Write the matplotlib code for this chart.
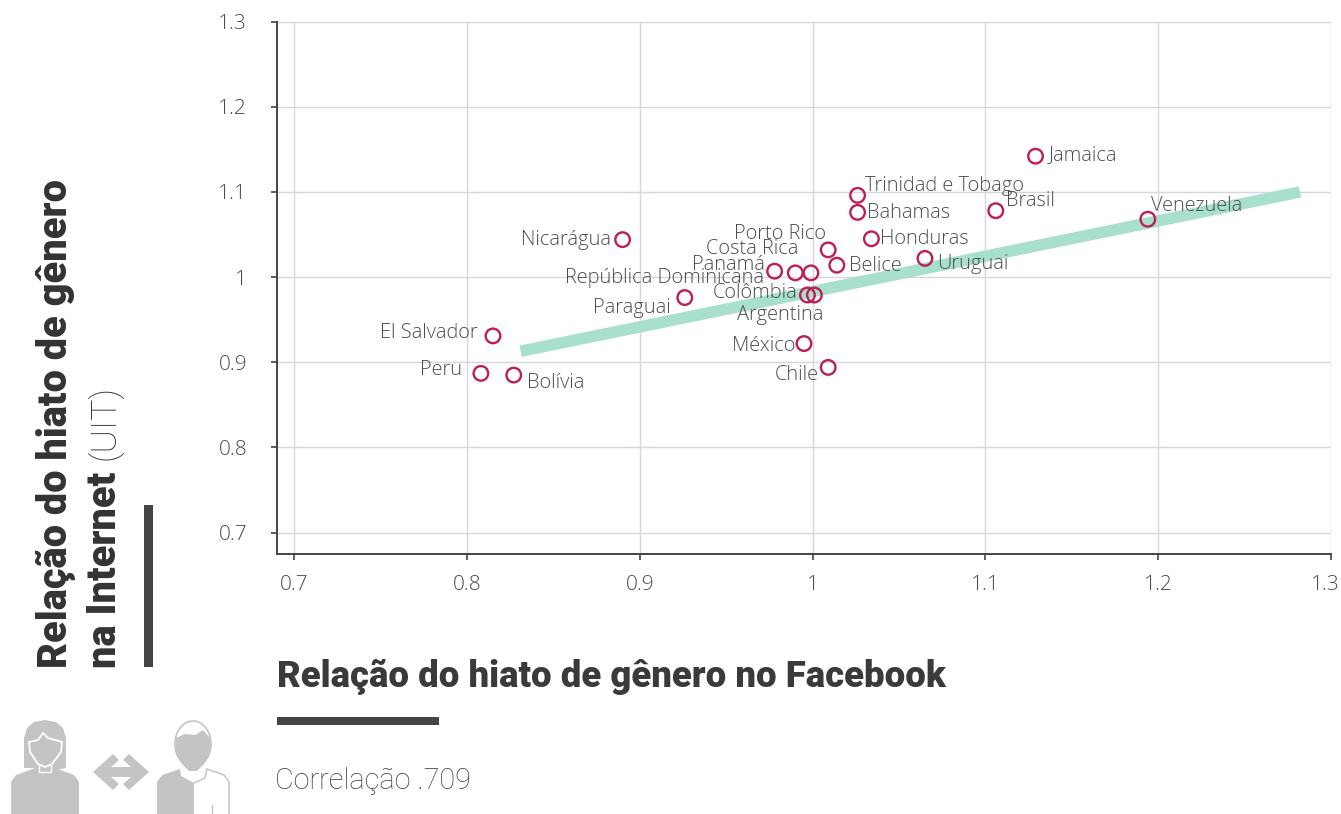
#!/bin/env/python

import matplotlib
matplotlib.use("Agg")
import matplotlib.pyplot as plt
from matplotlib.patches import Polygon, Rectangle, Ellipse
from matplotlib.transforms import ScaledTranslation

countries = ["Jamaica", "Trinidad e Tobago", "Bahamas", "Brasil", "Venezuela", "Nicarágua",
             "Porto Rico", "Honduras", "Costa Rica", "República Dominicana", "Panamá", "Belice",
             "Uruguai", "Colômbia", "Argentina", "Paraguai", "El Salvador", "México", "Chile",
             "Peru", "Bolívia"]
facebook = [1.129, 1.026, 1.026, 1.106, 1.194, 0.890, 1.009, 1.034, 0.999, 0.990, 0.978, 1.014,
            1.065, 0.997, 1.001, 0.926, 0.815, 0.995, 1.009, 0.808, 0.827]
internet = [1.142, 1.096, 1.076, 1.078, 1.068, 1.044, 1.032, 1.045, 1.005, 1.005, 1.007, 1.014,
            1.022, 0.979, 0.979, 0.976, 0.931, 0.922, 0.894, 0.887, 0.885]
trend_x = [0.831, 1.282]
trend_y = [0.913, 1.100]
ticks = [0.7, 0.8, 0.9, 1.0, 1.1, 1.2, 1.3]
tick_labels = ["0.7", "0.8", "0.9", "1", "1.1", "1.2", "1.3"]

# label placement, pixels from the point
offsets = {"Jamaica": (13, 1, "left"), "Trinidad e Tobago": (7, 9, "left"), "Bahamas": (9, -1, "left"),
           "Brasil": (10, 10, "left"), "Venezuela": (3, 13, "left"), "Nicarágua": (-12, 0, "right"),
           "Porto Rico": (-2, 16, "right"), "Honduras": (9, 0, "left"), "Costa Rica": (-13, 24, "right"),
           "República Dominicana": (-31, -5, "right"), "Panamá": (-10, 6, "right"), "Belice": (12, -1, "left"),
           "Uruguai": (12, -6, "left"), "Colômbia": (-10, 2, "right"), "Argentina": (9, -20, "right"),
           "Paraguai": (-14, -10, "right"), "El Salvador": (-15, 3, "right"), "México": (-9, -2, "right"),
           "Chile": (-9, -8, "right"), "Peru": (-19, 3, "right"), "Bolívia": (13, -8, "left")}

W, H = 1341, 814
grey = "#444444"
txt = "#4c4c4c"
icon = "#c4c4c2"

fig = plt.figure(figsize=(W / 100, H / 100), dpi=100)
ax = fig.add_axes([277 / W, 1 - 553.6 / H, (1331 - 277) / W, (553.6 - 21.6) / H])
ax.set_xlim(0.690, 1.300)
ax.set_ylim(0.6754, 1.300)
ax.set_xticks(ticks)
ax.set_yticks(ticks)
ax.set_xticklabels(tick_labels, fontfamily="Open Sans", fontweight="light", fontsize=15, color=txt)
ax.set_yticklabels(tick_labels, fontfamily="Open Sans", fontweight="light", fontsize=15, color=txt)
ax.grid(True, color="#d4d6e2", lw=1)
ax.set_axisbelow(True)
ax.spines["top"].set_visible(False)
ax.spines["right"].set_visible(False)
for s in ["left", "bottom"]:
    ax.spines[s].set_color(grey)
    ax.spines[s].set_linewidth(1.4)
ax.tick_params(axis="both", length=4.5, width=1.2, color=grey)
ax.tick_params(axis="x", pad=11)
ax.tick_params(axis="y", pad=17)

# 1.3 sits just inside the picture edge
lab = ax.get_xticklabels()[-1]
lab.set_transform(lab.get_transform() + ScaledTranslation(-4 / 72, 0, fig.dpi_scale_trans))

ax.plot(trend_x, trend_y, color="#a8e0cc", lw=8.3, solid_capstyle="butt", zorder=2)
ax.scatter(facebook, internet, s=110, facecolors="none", edgecolors="#bd1e57", linewidths=1.7, zorder=3)

for name, x, y in zip(countries, facebook, internet):
    dx, dy, ha = offsets[name]
    ax.annotate(name, (x, y), xytext=(dx, dy), textcoords="offset pixels", ha=ha, va="center",
                fontfamily="Open Sans", fontweight="light", fontsize=14.4, color=txt, zorder=4)

# overlay in picture pixels for titles, bars and the icons
ov = fig.add_axes([0, 0, 1, 1], facecolor="none")
ov.set_xlim(0, W)
ov.set_ylim(H, 0)
ov.axis("off")

ov.text(277, 687, "Relação do hiato de gênero no Facebook", fontfamily="Roboto", fontweight=900,
        fontsize=26.25, color="#3a3a3a", va="baseline", ha="left")
ov.add_patch(Rectangle((277, 717), 162, 8, color=grey, lw=0))
ov.text(275, 781, "Correlação .709", fontfamily="Roboto", fontweight="light", fontsize=20.8,
        color="#3f3f3f", va="center", ha="left")

ov.text(67, 668, "Relação do hiato de gênero", rotation=90, fontfamily="Roboto", fontweight=900,
        fontsize=28.6, color="#333333", va="baseline", ha="left", rotation_mode="anchor")
ov.text(116, 668, "na Internet", rotation=90, fontfamily="Roboto", fontweight=900,
        fontsize=28.6, color="#333333", va="baseline", ha="left", rotation_mode="anchor")
ov.text(115, 460, "(UIT)", rotation=90, fontfamily="Roboto", fontweight="light",
        fontsize=25.5, color="#333333", va="baseline", ha="left", rotation_mode="anchor")
ov.add_patch(Rectangle((144, 505), 9, 162, color=grey, lw=0))

# woman icon
ov.add_patch(Polygon([(24, 768), (24, 738), (27, 728), (34, 722), (45, 720), (56, 722), (63, 728), (66, 738),
                      (66, 768), (56, 770), (56, 768), (34, 768)], color=icon, lw=0))
ov.add_patch(Polygon([(11, 814), (11, 782), (16, 775), (38, 767), (52, 767), (74, 775), (79, 782), (79, 814)],
                     color=icon, lw=0))
ov.add_patch(Polygon([(29, 742), (38, 740), (43, 733), (48, 738), (62, 742), (61, 752), (52, 764), (45, 767),
                      (38, 764), (30, 752)], facecolor=icon, edgecolor="white", lw=1.3))
ov.plot([39, 39, 51, 51], [765, 772, 772, 765], color="white", lw=1)

# arrow
ov.add_patch(Polygon([(93, 772), (113, 754), (119, 760), (111, 767), (131, 767), (123, 760), (129, 754),
                      (149, 772), (129, 790), (123, 784), (131, 777), (111, 777), (119, 784), (113, 790)],
                     color=icon, lw=0))

# man icon
ov.add_patch(Ellipse((193, 744), 36, 46, facecolor="none", edgecolor=icon, lw=1.2))
ov.add_patch(Polygon([(176, 738), (185, 734), (195, 735), (203, 730), (210, 738), (210, 752), (204, 764), (197, 771),
                      (189, 771), (182, 764), (176, 752)], color=icon, lw=0))
ov.add_patch(Polygon([(157, 814), (157, 782), (162, 775), (180, 769), (181, 776), (194, 783), (194, 814)],
                     color=icon, lw=0))
ov.plot([194, 205, 207, 224, 229, 229], [783, 778, 769, 775, 782, 814], color=icon, lw=1.1)
ov.plot([212, 212], [805, 814], color=icon, lw=1)

fig.savefig("out.png", dpi=100)
